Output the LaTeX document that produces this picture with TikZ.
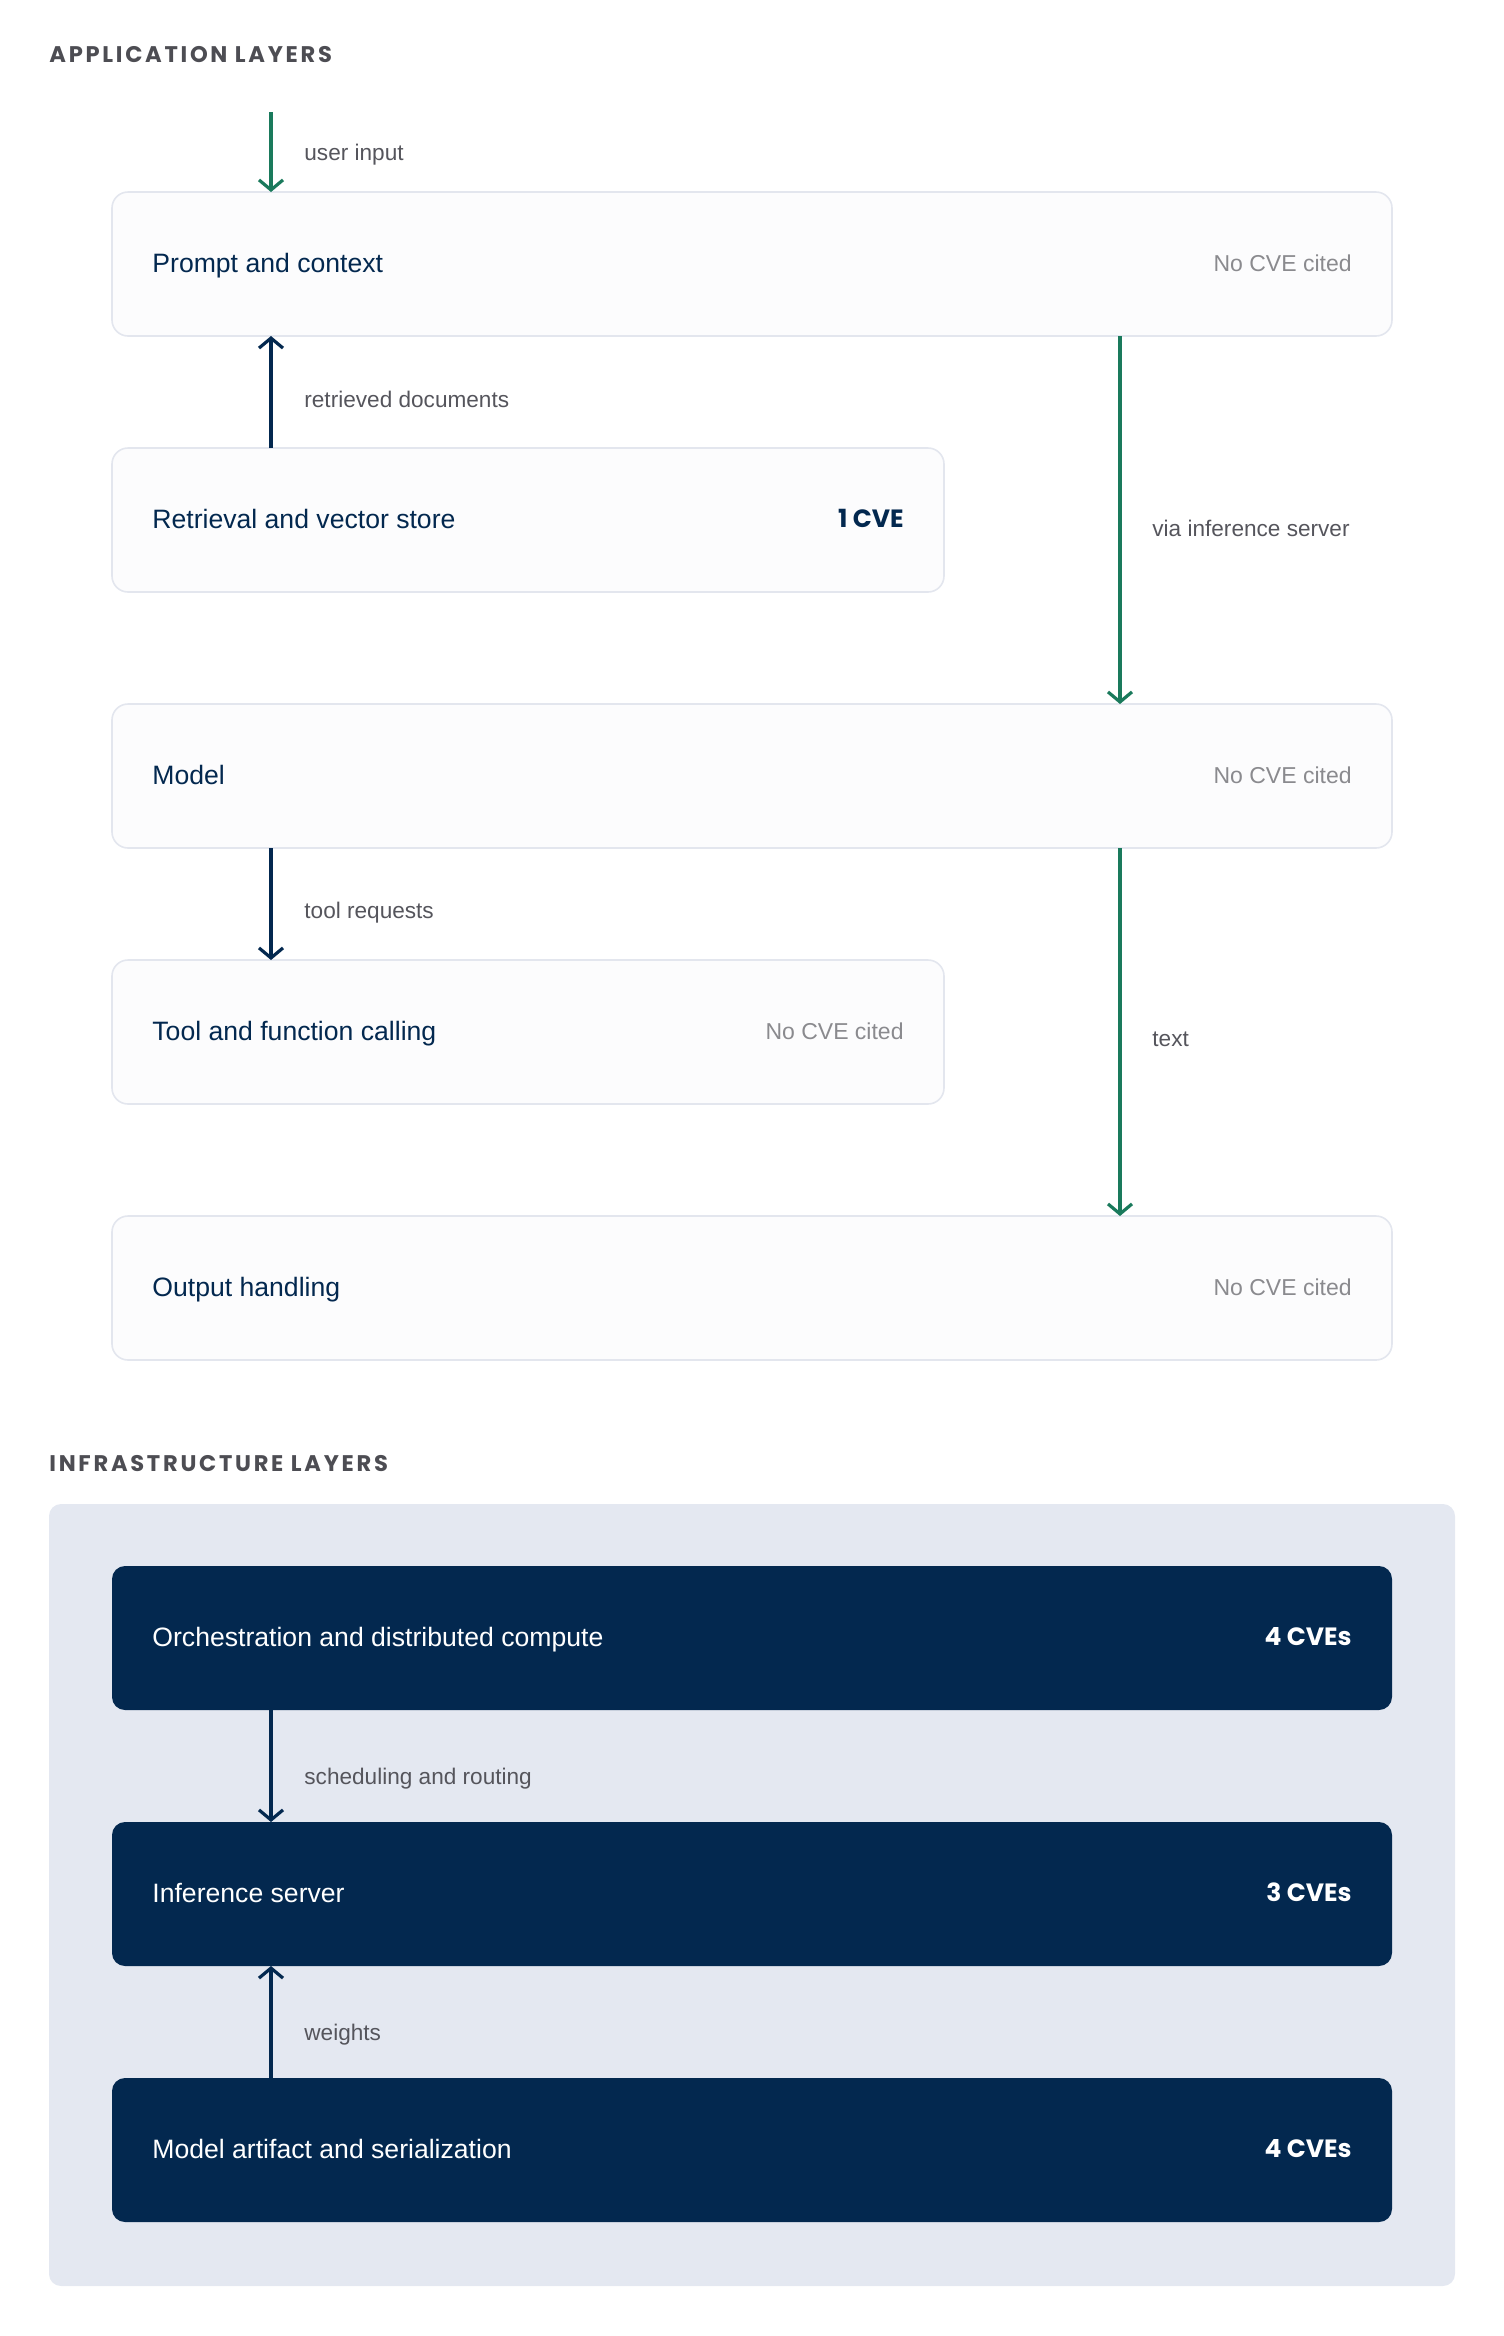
\documentclass[tikz,border=0pt]{standalone}
\usepackage{fontspec}
\setmainfont{Liberation Sans}
\newfontfamily\capsfont[LetterSpace=12]{Poppins}
\newfontfamily\countfont{Poppins}
\usetikzlibrary{positioning, arrows.meta}
\definecolor{layernavy}{HTML}{03284F}
\definecolor{layergreen}{HTML}{1A7A5C}
\definecolor{layerborder}{HTML}{E3E6EE}
\definecolor{layerfill}{HTML}{FCFCFD}
\definecolor{layerpanel}{HTML}{E4E8F1}
\definecolor{cvegray}{HTML}{8A8A8E}
\definecolor{labelgray}{HTML}{55555C}
\definecolor{headgray}{HTML}{4D4D53}

\begin{document}
\begin{tikzpicture}[x=0.5pt, y=0.5pt,
        lightbox/.style={draw=layerborder, line width=0.8pt, fill=layerfill, rounded corners=8pt, minimum height=72pt, inner sep=0pt, outer sep=0pt},
        darkbox/.style={fill=layernavy, rounded corners=6.5pt, minimum width=640pt, minimum height=72pt, inner sep=0pt, outer sep=0pt},
        title/.style={inner sep=0pt, text height=0.8em, text depth=0pt, text=layernavy, font=\fontsize{13.3}{16}\selectfont},
        count/.style={inner sep=0pt, text height=0.75em, text depth=0pt, text=layernavy, font=\countfont\bfseries\fontsize{12.5}{15}\selectfont},
        nocve/.style={inner sep=0pt, text height=0.72em, text depth=0pt, text=cvegray, font=\fontsize{11.5}{14}\selectfont},
        flowlabel/.style={anchor=west, inner sep=0pt, text height=0.72em, text depth=0pt, text=labelgray, font=\fontsize{11.3}{14}\selectfont},
        heading/.style={anchor=west, inner sep=0pt, text height=0.7em, text depth=0pt, text=headgray, font=\capsfont\bfseries\fontsize{11.3}{14}\selectfont},
        greenflow/.style={draw=layergreen, line width=1.6pt, -{Straight Barb[length=5pt, width=12pt]}},
        navyflow/.style={draw=layernavy, line width=1.6pt, -{Straight Barb[length=5pt, width=12pt]}}
    ]
      \useasboundingbox (0,0) rectangle (1504,-2336);

      % Application layers
      \node[heading] (apphead) at (49,-55) {APPLICATION LAYERS};
      \node[lightbox, minimum width=640pt] (prompt) at (752,-264) {};
      \node[lightbox, minimum width=416pt] (retrieval) at (528,-520) {};
      \node[lightbox, minimum width=640pt] (model) at (752,-776) {};
      \node[lightbox, minimum width=416pt] (tools) at (528,-1032) {};
      \node[lightbox, minimum width=640pt] (output) at (752,-1288) {};

      \node[title, right=20pt of prompt.west] (promptname) {Prompt and context};
      \node[nocve, left=20pt of prompt.east] (promptcve) {No CVE cited};
      \node[title, right=20pt of retrieval.west] (retrievalname) {Retrieval and vector store};
      \node[count, left=20pt of retrieval.east] (retrievalcve) {1 CVE};
      \node[title, right=20pt of model.west] (modelname) {Model};
      \node[nocve, left=20pt of model.east] (modelcve) {No CVE cited};
      \node[title, right=20pt of tools.west] (toolsname) {Tool and function calling};
      \node[nocve, left=20pt of tools.east] (toolscve) {No CVE cited};
      \node[title, right=20pt of output.west] (outputname) {Output handling};
      \node[nocve, left=20pt of output.east] (outputcve) {No CVE cited};

      % Infrastructure layers
      \node[heading] (infrahead) at (49,-1464) {INFRASTRUCTURE LAYERS};
      \fill[layerpanel, rounded corners=6pt] (49,-1504) rectangle (1455,-2286);
      \node[darkbox] (orch) at (752,-1638) {};
      \node[darkbox] (infer) at (752,-1894) {};
      \node[darkbox] (artifact) at (752,-2150) {};

      \node[title, text=white, right=20pt of orch.west] (orchname) {Orchestration and distributed compute};
      \node[count, text=white, left=20pt of orch.east] (orchcve) {4 CVEs};
      \node[title, text=white, right=20pt of infer.west] (infername) {Inference server};
      \node[count, text=white, left=20pt of infer.east] (infercve) {3 CVEs};
      \node[title, text=white, right=20pt of artifact.west] (artifactname) {Model artifact and serialization};
      \node[count, text=white, left=20pt of artifact.east] (artifactcve) {4 CVEs};

      % Flows
      \coordinate (leftcol) at (271,0);
      \coordinate (rightcol) at (1120,0);
      \coordinate (input) at (271,-112);
      \draw[greenflow] (input) -- (prompt.north -| leftcol);
      \draw[navyflow] (retrieval.north -| leftcol) -- (prompt.south -| leftcol);
      \draw[greenflow] (prompt.south -| rightcol) -- (model.north -| rightcol);
      \draw[navyflow] (model.south -| leftcol) -- (tools.north -| leftcol);
      \draw[greenflow] (model.south -| rightcol) -- (output.north -| rightcol);
      \draw[navyflow] (orch.south -| leftcol) -- (infer.north -| leftcol);
      \draw[navyflow] (artifact.north -| leftcol) -- (infer.south -| leftcol);

      \node[flowlabel] (inputlabel) at (304,-153) {user input};
      \node[flowlabel] (retrievedlabel) at (304,-400) {retrieved documents};
      \node[flowlabel] (serverlabel) at (1152,-529) {via inference server};
      \node[flowlabel] (requestlabel) at (304,-911) {tool requests};
      \node[flowlabel] (textlabel) at (1152,-1039) {text};
      \node[flowlabel] (routinglabel) at (304,-1777) {scheduling and routing};
      \node[flowlabel] (weightslabel) at (304,-2033) {weights};
    \end{tikzpicture}
\end{document}
